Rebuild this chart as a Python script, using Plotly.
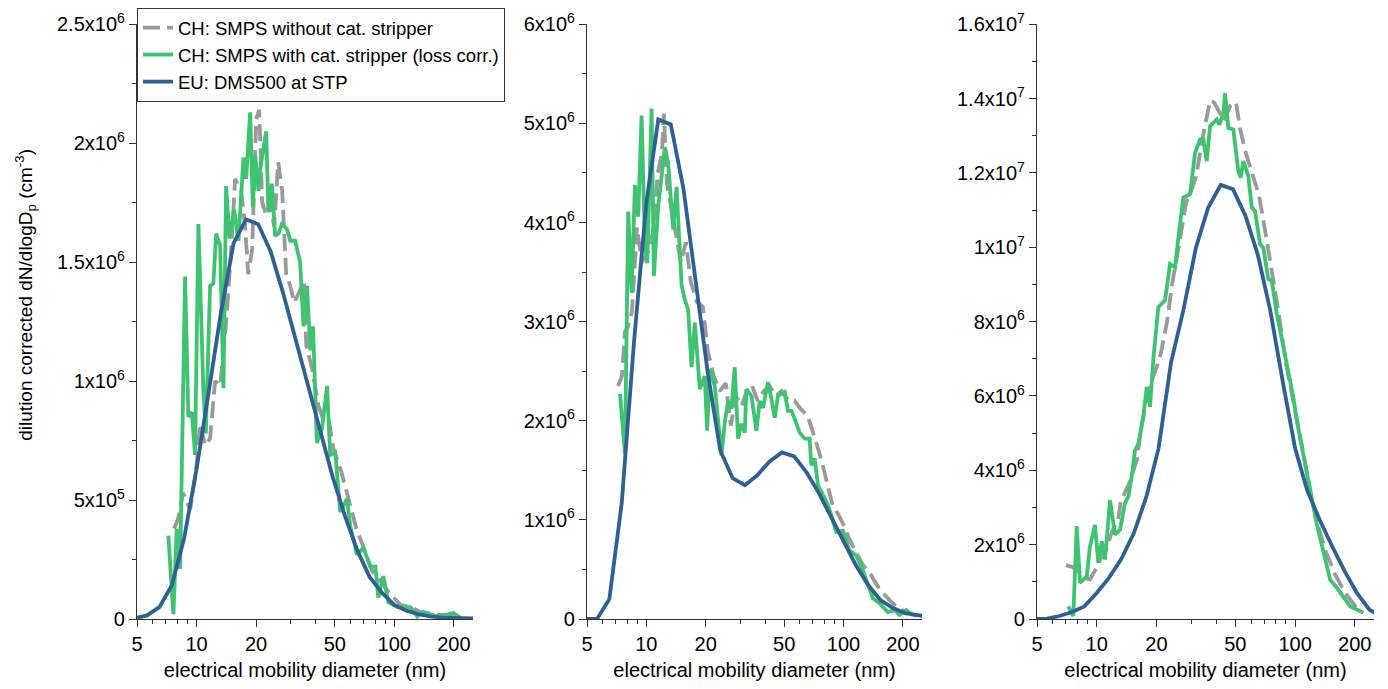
import plotly.graph_objects as go

# ---------------- data (values in units of 1e6 cm^-3) ----------------
UNIT = 1e6

# DMS500 size channels (nm)
d_dms = [5.0, 5.62, 6.49, 7.5, 8.66, 10.0, 11.5, 13.3, 15.4, 17.8, 20.5, 23.7, 27.4,
         31.6, 36.5, 42.2, 48.7, 56.2, 64.9, 75.0, 86.6, 100.0, 115.0, 133.0, 154.0,
         178.0, 205.0, 237.0, 274.0]

# Panel 1
p1_dms = [0.005, 0.015, 0.05, 0.142, 0.34, 0.63, 0.95, 1.29, 1.58, 1.68, 1.66, 1.545, 1.37,
          1.18, 0.98, 0.78, 0.60, 0.435, 0.29, 0.177, 0.11, 0.059, 0.035, 0.02, 0.01,
          0.006, 0.004, 0.002, 0.001]
p1_gray_d = [7.70, 8.06, 8.55, 9.28, 9.94, 10.42, 11.05, 11.71, 12.41, 13.16, 13.79, 14.28,
             14.96, 15.67, 16.81, 17.61, 18.24, 19.11, 20.03, 20.74, 21.47, 22.49, 23.57,
             24.69, 25.87, 27.11, 28.40, 29.76, 31.18, 33.44, 35.04, 35.87, 38.46, 41.25,
             43.2, 46.35, 49.1, 53.9, 59.9, 64.3, 71.4, 77.4, 85.0, 94.4, 107.3, 120.6,
             135.5, 155.9, 181.4, 216.0]
p1_gray_v = [0.38, 0.42, 0.53, 0.46, 0.62, 0.82, 0.73, 0.76, 1.00, 0.98, 1.15, 1.30,
             1.55, 1.85, 1.80, 1.65, 1.45, 1.55, 2.10, 2.14, 1.75, 1.70, 1.75,
             1.65, 1.92, 1.80, 1.45, 1.40, 1.33, 1.38, 1.42, 1.15, 1.05, 0.90,
             0.85, 0.85, 0.72, 0.62, 0.48, 0.38, 0.28, 0.20, 0.16, 0.11, 0.06, 0.05,
             0.03, 0.02, 0.015, 0.01]
p1_green_d = [7.20, 7.64, 7.94, 8.26, 8.75, 9.09, 9.46, 9.83, 10.22, 10.84, 11.14, 11.71,
              12.17, 12.56, 13.16, 13.68, 14.11, 14.70, 15.49, 16.29, 17.27, 17.82, 18.67,
              19.27, 19.79, 20.57, 20.98, 22.5, 23.1, 24.04, 24.98, 25.96, 27.0, 28.6, 29.8,
              31.5, 33.4, 34.75, 36.2, 37.6, 38.8, 40.6, 43.1, 45.7, 47.4, 50.3, 53.3, 57.6,
              59.9, 64.8, 69.7, 75.6, 80.2, 83.0, 88.0, 93.3, 103.6, 120.6, 130.8, 140.0,
              165.0, 199.0, 216.0]
p1_green_v = [0.35, 0.02, 0.38, 0.21, 1.44, 0.85, 0.87, 0.69, 1.66, 0.95, 0.78, 1.40,
              1.41, 1.62, 1.57, 0.97, 1.82, 1.60, 1.72, 1.59, 1.94, 1.85, 2.13,
              1.73, 1.95, 1.80, 1.89, 2.05, 1.71, 1.83, 1.61, 1.62, 1.66, 1.64, 1.59,
              1.59, 1.50, 1.23, 1.40, 1.13, 1.23, 0.74, 0.80, 0.98, 0.69, 0.70, 0.45, 0.505,
              0.39, 0.27, 0.30, 0.22, 0.22, 0.09, 0.18, 0.07, 0.05, 0.05, 0.01, 0.03,
              0.01, 0.025, 0.005]

# Panel 2
p2_dms = [0.0, 0.0, 0.2, 1.17, 2.8, 4.2, 5.04, 4.99, 4.35, 3.41, 2.48, 1.7, 1.42,
          1.35, 1.45, 1.59, 1.68, 1.64, 1.48, 1.27, 1.03, 0.78, 0.55, 0.345, 0.19,
          0.11, 0.06, 0.04, 0.02]
p2_gray_d = [7.18, 7.52, 7.79, 8.06, 8.45, 8.96, 9.49, 10.18, 10.79, 11.44, 11.99, 12.27,
             12.71, 13.79, 14.96, 15.86, 16.81, 18.03, 19.33, 20.5, 21.98, 23.57, 25.28,
             26.8, 28.4, 30.47, 32.3, 34.23, 36.7, 39.37, 42.2, 45.3, 48.56, 52.7, 56.5,
             60.6, 65.8, 71.4, 77.4, 83.0, 88.0, 94.4, 101.2, 107.3, 115.1, 124.9, 137.1,
             152.3, 173.1, 192.3, 213.5, 237.1]
p2_gray_v = [2.35, 2.45, 2.90, 2.95, 3.10, 3.95, 3.60, 3.70, 3.90, 4.50, 4.70, 5.10,
             4.40, 4.00, 3.60, 3.80, 3.40, 3.20, 3.15, 2.70, 2.45, 2.30, 2.38,
             1.95, 2.25, 2.15, 2.30, 2.36, 2.20, 2.30, 2.35, 2.25, 2.30, 2.20, 2.20,
             2.12, 2.05, 1.83, 1.60, 1.35, 1.15, 1.05, 0.93, 0.80, 0.68, 0.55, 0.45,
             0.30, 0.18, 0.10, 0.06, 0.03]
p2_green_d = [7.35, 7.79, 8.09, 8.42, 8.75, 9.09, 9.46, 9.83, 10.10, 10.63, 10.92, 11.48,
              12.41, 12.90, 13.68, 14.23, 15.09, 15.67, 16.29, 16.95, 17.61, 18.67, 19.79,
              20.33, 20.98, 22.24, 24.04, 24.98, 25.96, 27.01, 28.07, 29.18, 30.36, 31.55,
              32.18, 34.12, 36.16, 37.58, 39.05, 41.39, 43.08, 44.77, 46.51, 48.39, 50.29,
              52.26, 54.4, 56.5, 59.9, 63.5, 67.3, 68.6, 71.4, 74.2, 78.6, 83.4, 91.9, 99.3,
              107.3, 116.0, 125.3, 135.5, 140.8, 152.3, 167.7, 181.4, 192.3, 207.9, 224.5]
p2_green_v = [2.27, 1.67, 4.11, 3.29, 4.38, 4.06, 5.08, 3.79, 3.59, 5.15, 3.46, 4.16,
              4.76, 4.60, 3.93, 4.36, 3.37, 3.22, 3.12, 2.54, 2.99, 2.32, 2.45,
              1.90, 2.52, 2.35, 1.65, 1.98, 2.20, 2.12, 2.54, 1.82, 1.97, 1.88,
              2.32, 2.25, 1.90, 2.20, 2.13, 2.39, 2.22, 2.03, 2.25, 2.27, 2.29,
              2.10, 2.10, 2.02, 1.88, 1.82, 1.82, 1.55, 1.62, 1.35, 1.25, 1.15, 0.88, 0.89,
              0.69, 0.64, 0.49, 0.29, 0.21, 0.16, 0.07, 0.09, 0.04, 0.09, 0.04]

# Panel 3
p3_dms = [0.0, 0.01, 0.08, 0.19, 0.34, 0.70, 1.10, 1.61, 2.31, 3.29, 4.59, 6.9, 8.33,
          9.98, 11.07, 11.68, 11.56, 10.85, 9.8, 8.3, 6.4, 4.6, 3.47, 2.67, 1.95,
          1.28, 0.70, 0.25, 0.08]
p3_gray_d = [7.00, 7.51, 8.05, 8.73, 9.25, 9.92, 10.39, 11.14, 11.94, 12.81, 13.26, 14.72,
             15.97, 16.73, 17.93, 18.78, 20.14, 21.10, 22.62, 23.97, 25.70, 28.21, 29.89,
             31.68, 34.35, 37.28, 39.04, 40.90, 43.85, 47.02, 50.4, 52.8, 55.96, 60.7, 65.8,
             71.4, 76.6, 83.0, 90.1, 98.8, 109.7, 119.1, 130.6, 143.3, 159.1, 178.7, 200.7,
             217.7]
p3_gray_v = [1.45, 1.40, 1.30, 1.10, 1.06, 1.35, 1.60, 1.85, 2.35, 2.67, 3.18, 3.70,
             4.30, 5.10, 6.00, 6.37, 6.80, 7.17, 8.00, 9.00, 9.90, 11.20, 11.50,
             11.90, 13.00, 13.95, 13.90, 13.70, 13.40, 13.80, 13.90, 13.20, 12.60, 12.00, 11.40,
             10.30, 9.37, 8.16, 6.87, 5.80, 4.50, 3.47, 2.50, 1.80, 1.20, 0.70, 0.35,
             0.20]
p3_green_d = [7.19, 7.62, 7.93, 8.24, 8.91, 9.25, 9.80, 10.19, 10.60, 11.01, 11.67, 12.37,
              13.11, 13.89, 14.44, 15.01, 15.60, 16.22, 17.18, 17.87, 18.57, 19.30, 20.45,
              22.11, 23.42, 24.82, 25.80, 27.34, 29.55, 31.32, 33.19, 34.48, 35.87, 37.28,
              40.29, 41.52, 43.50, 44.36, 46.10, 48.85, 51.76, 53.2, 54.86, 58.1, 60.5, 62.8,
              66.6, 69.2, 73.3, 76.3, 80.9, 87.3, 92.5, 98.0, 102.0, 110.1, 119.1, 128.7,
              140.0, 150.2, 162.4, 189.4, 221.0]
p3_green_v = [0.34, 0.08, 2.50, 0.97, 1.15, 1.95, 2.53, 1.51, 2.09, 1.60, 3.20, 2.27,
              2.40, 3.12, 3.29, 3.83, 4.54, 4.72, 5.44, 6.24, 5.71, 7.00, 8.39,
              8.57, 9.55, 9.46, 10.26, 11.34, 11.43, 12.54, 12.90, 12.90, 12.32, 13.26,
              13.44, 13.30, 13.61, 14.15, 13.21, 13.17, 12.05, 11.87, 12.32, 11.92, 11.07, 10.98,
              10.09, 9.99, 9.15, 9.10, 8.21, 7.31, 6.69, 5.97, 5.35, 4.36, 3.47, 2.55,
              1.75, 1.06, 0.84, 0.34, 0.17]

names = ["CH: SMPS without cat. stripper",
         "CH: SMPS with cat. stripper (loss corr.)",
         "EU: DMS500 at STP"]

x_tickvals = [5, 10, 20, 50, 100, 200]
x_ticktext = ["5", "10", "20", "50", "100", "200"]
x_minor = [6, 7, 8, 9, 30, 40, 60, 70, 80, 90]

y_ticks = [
    ([0, 0.5e6, 1e6, 1.5e6, 2e6, 2.5e6],
     ["0", "5x10<sup>5</sup>", "1x10<sup>6</sup>", "1.5x10<sup>6</sup>",
      "2x10<sup>6</sup>", "2.5x10<sup>6</sup>"], 2.5e6, 0.25e6),
    ([0, 1e6, 2e6, 3e6, 4e6, 5e6, 6e6],
     ["0", "1x10<sup>6</sup>", "2x10<sup>6</sup>", "3x10<sup>6</sup>",
      "4x10<sup>6</sup>", "5x10<sup>6</sup>", "6x10<sup>6</sup>"], 6e6, 0.5e6),
    ([0, 2e6, 4e6, 6e6, 8e6, 1e7, 1.2e7, 1.4e7, 1.6e7],
     ["0", "2x10<sup>6</sup>", "4x10<sup>6</sup>", "6x10<sup>6</sup>", "8x10<sup>6</sup>",
      "1x10<sup>7</sup>", "1.2x10<sup>7</sup>", "1.4x10<sup>7</sup>", "1.6x10<sup>7</sup>"],
     1.6e7, 1e6),
]

panels = [
    (p1_gray_d, p1_gray_v, p1_green_d, p1_green_v, p1_dms),
    (p2_gray_d, p2_gray_v, p2_green_d, p2_green_v, p2_dms),
    (p3_gray_d, p3_gray_v, p3_green_d, p3_green_v, p3_dms),
]

# ---------------- styling ----------------
GRAY = "#9a9a9a"
GREEN = "#3ec470"
BLUE = "#2e6096"
AXC = "#333333"
FONT = "Liberation Sans, Arial, sans-serif"
LW = 3.8

# the page body has an 8 px offset; figure sized to fit the window
OFF = 8
W, H = 1388 - OFF, 689 - OFF
ML, MR, MT, MB = 137 - OFF, 14, 24 - OFF, 70
PW = W - ML - MR
PH = H - MT - MB
domains_px = [(137, 473), (587, 922), (1037, 1374)]
domains = [((a - OFF - ML) / PW, (b - OFF - ML) / PW) for a, b in domains_px]

fig = go.Figure()

def sc(v):
    return [x * UNIT for x in v]

for i, (gd, gv, nd, nv, dv) in enumerate(panels):
    xa = "x" if i == 0 else f"x{i+1}"
    ya = "y" if i == 0 else f"y{i+1}"
    show = i == 0
    fig.add_trace(go.Scatter(x=gd, y=sc(gv), mode="lines", name=names[0],
                             line=dict(color=GRAY, width=LW, dash="17px,7px"),
                             xaxis=xa, yaxis=ya, showlegend=show, legendrank=1))
    fig.add_trace(go.Scatter(x=nd, y=sc(nv), mode="lines", name=names[1],
                             line=dict(color=GREEN, width=LW),
                             xaxis=xa, yaxis=ya, showlegend=show, legendrank=2))
    fig.add_trace(go.Scatter(x=d_dms, y=sc(dv), mode="lines", name=names[2],
                             line=dict(color=BLUE, width=LW),
                             xaxis=xa, yaxis=ya, showlegend=show, legendrank=3))

layout = dict(
    width=W, height=H,
    margin=dict(l=ML, r=MR, t=MT, b=MB, autoexpand=False),
    paper_bgcolor="white", plot_bgcolor="white",
    font=dict(family=FONT, size=20, color="black"),
    showlegend=True,
    legend=dict(x=0.0, y=1.0 + MT / PH, xanchor="left", yanchor="top",
                bgcolor="white", bordercolor=AXC, borderwidth=1,
                font=dict(size=18.5, family=FONT), tracegroupgap=0,
                itemwidth=30, traceorder="normal"),
)

for i in range(3):
    sx = "" if i == 0 else str(i + 1)
    tv, tt, ymax, ymin_dt = y_ticks[i]
    layout["xaxis" + sx] = dict(
        type="log", domain=list(domains[i]), range=[0.69897, 2.39794],
        anchor="y" + sx, showline=True, linecolor=AXC, linewidth=1.3,
        ticks="outside", ticklen=7, tickwidth=1.3, tickcolor=AXC,
        tickvals=x_tickvals, ticktext=x_ticktext, showgrid=False, zeroline=False,
        tickfont=dict(size=20, family=FONT), ticklabeloverflow="allow",
        minor=dict(tickvals=x_minor, ticks="outside", ticklen=4, tickwidth=1.2,
                   tickcolor=AXC, showgrid=False),
        title=dict(text="electrical mobility diameter (nm)",
                   font=dict(size=20, family=FONT), standoff=8),
    )
    layout["yaxis" + sx] = dict(
        domain=[0, 1], range=[0, ymax * 1.0005], anchor="x" + sx,
        showline=True, linecolor=AXC, linewidth=1.3,
        ticks="outside", ticklen=7, tickwidth=1.3, tickcolor=AXC,
        tickvals=tv, ticktext=tt, showgrid=False, zeroline=False,
        tickfont=dict(size=20, family=FONT), ticklabeloverflow="allow",
        minor=dict(tickmode="linear", tick0=0, dtick=ymin_dt, ticks="outside",
                   ticklen=4, tickwidth=1.2, tickcolor=AXC, showgrid=False),
    )

fig.update_layout(**layout)

fig.add_annotation(
    text="dilution corrected dN/dlogD<sub>p</sub> (cm<sup>-3</sup>)",
    xref="paper", yref="paper", x=(26 - OFF - ML) / PW, y=0.545,
    xanchor="center", yanchor="middle", textangle=-90, showarrow=False,
    font=dict(size=19, family=FONT, color="black"),
)

fig.write_html("out.html")
